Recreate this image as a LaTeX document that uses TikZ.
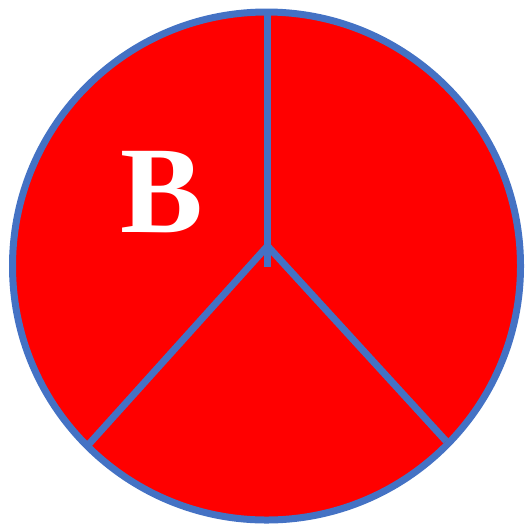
\documentclass[tikz,border=0pt]{standalone}
\usepackage{fontspec}
\setmainfont{Liberation Serif}
\definecolor{edgeblue}{HTML}{4472C4}
\definecolor{fillred}{HTML}{FF0000}
\begin{document}
\begin{tikzpicture}[x=1pt,y=-1pt,
  spoke/.style={draw=edgeblue,line width=7pt},
  rim/.style={draw=edgeblue,fill=fillred,line width=7pt}]
\useasboundingbox (0,0) rectangle (526,523);
\coordinate (c) at (266.5,266);
\draw[rim] (c) circle[radius=254];
\coordinate (top) at (267.5,12);
\coordinate (vend) at (267.5,267);
\coordinate (hub) at (267.5,246);
\coordinate (ll) at (89,444);
\coordinate (lr) at (446,441);
\draw[spoke] (top) -- (vend);
\draw[spoke] (hub) -- (ll);
\draw[spoke] (hub) -- (lr);
\node[text=white,font=\fontsize{124}{124}\selectfont\bfseries,inner sep=0pt] (b) at (162,192) {B};
\end{tikzpicture}
\end{document}
